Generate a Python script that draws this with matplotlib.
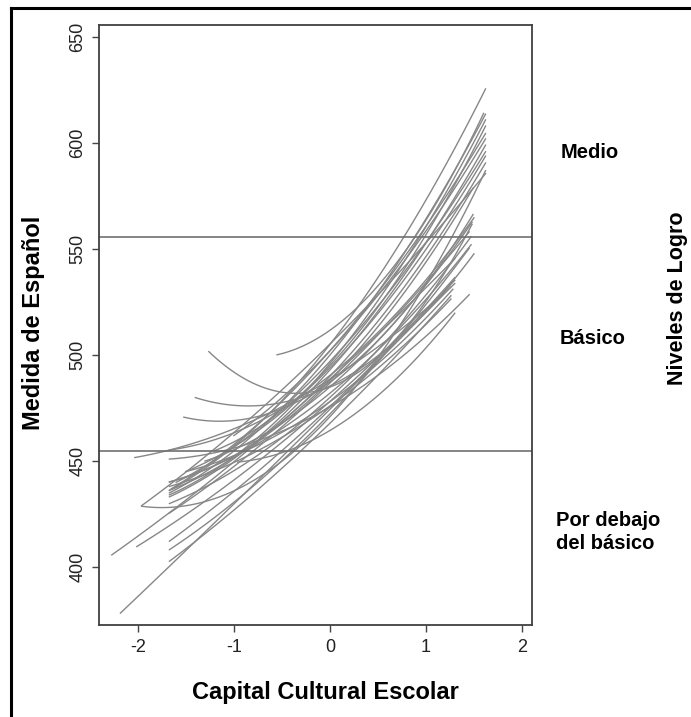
import numpy as np
import matplotlib
matplotlib.use("Agg")
import matplotlib.pyplot as plt
from matplotlib.lines import Line2D

# ================= DATA =================
# school curves: y = b0 + b1*x + b2*x^2, drawn over [x_min, x_max]
x_min = [-1.67, -1.67, -1.67, -1.65, -1.67, -1.60, -1.50, -1.67, -1.20, -1.00,
         -1.26, -0.55, -1.40, -1.52,
         -2.03, -1.67, -1.67, -0.96, -1.96, -1.96, -2.27, -2.01, -2.18,
         -1.67, -1.67, -1.67, -1.67,
         -1.67, -1.30, -1.67, -1.67, -1.50, -1.67]
x_max = [1.62, 1.62, 1.62, 1.62, 1.62, 1.62, 1.62, 1.62, 1.62, 1.62,
         1.48, 1.60, 1.50, 1.49,
         1.30, 1.50, 1.45, 1.30, 1.62, 1.62, 1.30, 1.30, 1.26,
         1.45, 1.30, 1.45, 1.26,
         1.49, 1.48, 1.47, 1.47, 1.28, 1.26]
b0 = [505.0, 500.0, 496.0, 502.0, 493.0, 497.0, 494.0, 490.0, 495.0, 502.0,
      484.9, 511.7, 485.4, 487.3,
      488.5, 490.4, 475.5, 464.4, 470.9, 505.2, 488.7, 478.1, 474.4,
      486.8, 475.6, 472.2, 467.8,
      488.0, 485.0, 480.0, 482.0, 478.0, 476.0]
b1 = [58.1, 54.8, 54.3, 51.5, 50.9, 48.3, 46.6, 47.4, 48.9, 48.3,
      16.7, 32.0, 22.1, 32.2,
      28.3, 36.1, 26.4, 27.0, 49.0, 44.8, 41.1, 40.1, 45.2,
      43.4, 43.0, 46.7, 44.0,
      45.7, 38.9, 41.5, 37.1, 32.5, 32.6]
b2 = [10.1, 9.5, 10.3, 7.3, 9.0, 7.9, 9.3, 9.1, 12.9, 8.3,
      23.8, 20.0, 13.0, 14.0,
      5.0, 9.0, 7.0, 12.0, 14.0, 3.0, 2.0, 3.0, 0.5,
      4.0, 3.0, 5.0, 3.0,
      10.2, 9.2, 6.9, 7.2, 7.0, 5.9]

# cut points between achievement levels
cut_points = [555.7, 454.9]
levels = ["Medio", "Básico", "Por debajo\ndel básico"]

xticks = [-2, -1, 0, 1, 2]
yticks = [400, 450, 500, 550, 600, 650]

# ================= PLOT =================
plt.rcParams.update({'font.family': ['Liberation Sans', 'DejaVu Sans']})

fig = plt.figure(figsize=(6.91, 7.17), dpi=100)
ax = fig.add_axes([0.1433, 0.1283, 0.7699 - 0.1433, 0.9651 - 0.1283])

for lo, hi, c0, c1, c2 in zip(x_min, x_max, b0, b1, b2):
    xs = np.linspace(lo, hi, 80)
    ax.plot(xs, c0 + c1 * xs + c2 * xs ** 2, color='#878787', lw=1.0)

for cp in cut_points:
    ax.axhline(cp, color='#707070', lw=1.2)

ax.set_xlim(-2.403, 2.104)
ax.set_ylim(372.6, 655.8)
ax.set_xticks(xticks)
ax.set_yticks(yticks)
ax.set_xticklabels([str(t) for t in xticks], fontsize=13, color='#222222')
ax.set_yticklabels([str(t) for t in yticks], fontsize=13, color='#222222',
                   rotation=90, va='center')
ax.tick_params(axis='both', direction='out', length=5, width=1.0, color='#444444')
ax.tick_params(axis='x', pad=5)
ax.tick_params(axis='y', pad=4)
for sp in ax.spines.values():
    sp.set_color('#404040')
    sp.set_linewidth(1.3)

# axis titles
fig.text(325 / 691, 1 - 693 / 717, "Capital Cultural Escolar", fontsize=17,
         fontweight='bold', ha='center', va='center')
fig.text(34 / 691, 1 - 323 / 717, "Medida de Español", fontsize=17,
         fontweight='bold', ha='center', va='center', rotation=90)
fig.text(677 / 691, 1 - 298 / 717, "Niveles de Logro", fontsize=15.5,
         fontweight='bold', ha='center', va='center', rotation=90)

# level labels on the right
fig.text(561 / 691, 1 - 152 / 717, levels[0], fontsize=14.5, fontweight='bold',
         ha='left', va='center')
fig.text(560 / 691, 1 - 338 / 717, levels[1], fontsize=14.5, fontweight='bold',
         ha='left', va='center')
fig.text(556 / 691, 1 - 532 / 717, levels[2], fontsize=14.5, fontweight='bold',
         ha='left', va='center', linespacing=1.25)

# partial frame round the figure (left and top)
fig.add_artist(Line2D([11 / 691, 11 / 691], [0, 1 - 8 / 717], color='black', lw=2.2,
                      transform=fig.transFigure))
fig.add_artist(Line2D([11 / 691, 1], [1 - 8 / 717, 1 - 8 / 717], color='black', lw=2.2,
                      transform=fig.transFigure))

fig.savefig("out.png", dpi=100)
